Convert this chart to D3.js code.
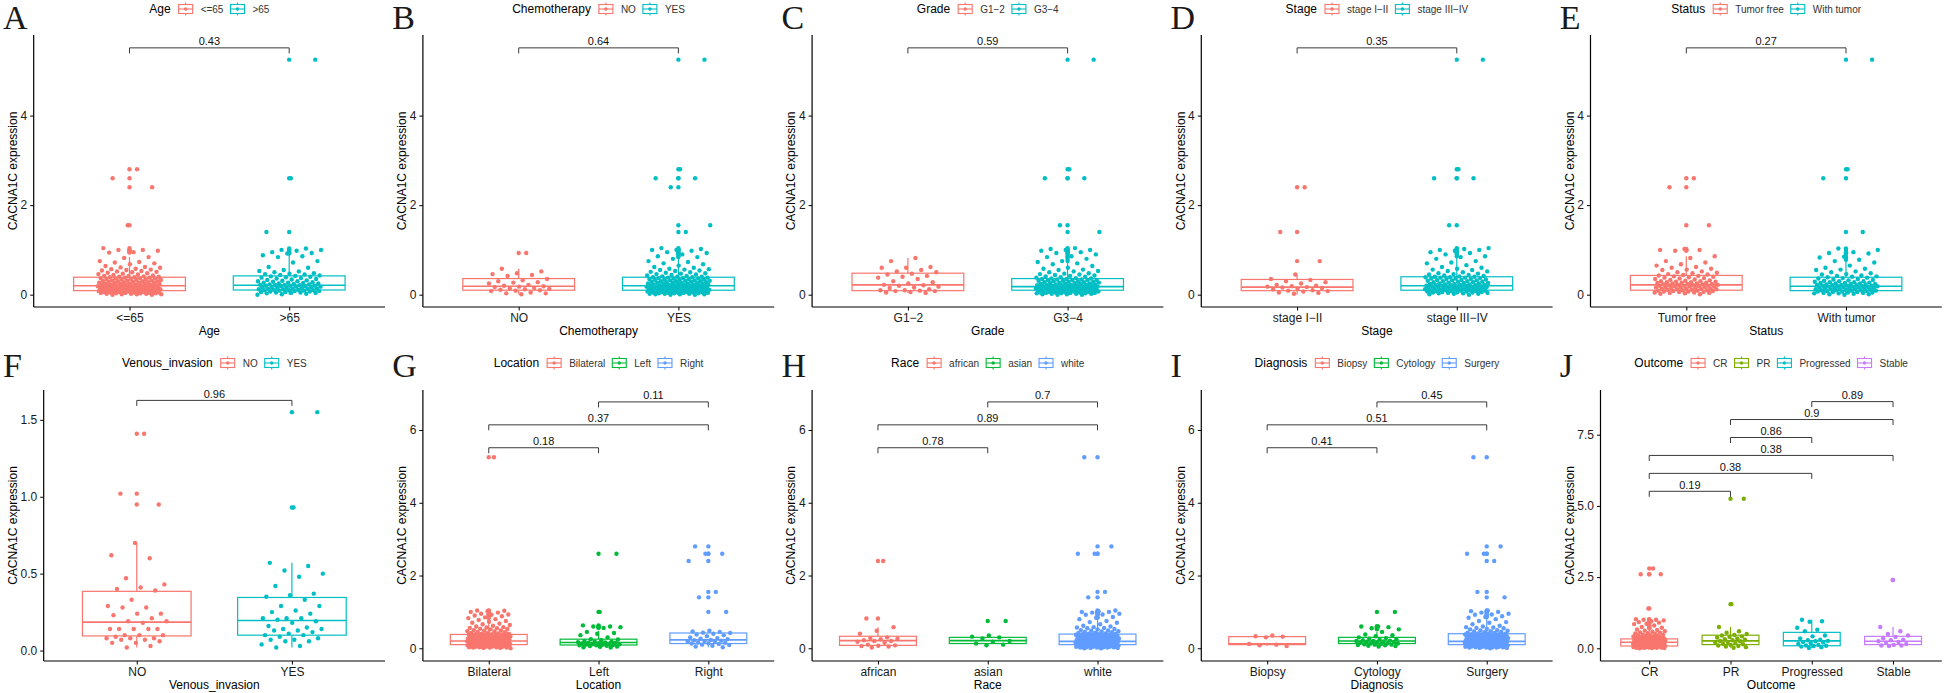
<!DOCTYPE html>
<html><head><meta charset="utf-8">
<script src="https://cdn.jsdelivr.net/npm/d3@7"></script>
<style>
body{margin:0;background:#fff}
svg{display:block}
text{font-family:"Liberation Sans",Arial,sans-serif}
</style>
</head><body>
<svg id="chart" width="1946" height="693"></svg>
<script>
// ---------------- DATA ----------------
const yTitle = "CACNA1C expression";

// Panel A: Age
const catsAge = ["<=65", ">65"];
const A_le65 = [2.8,2.6,2.4,1.55,1.04,1.0,1.0,0.98,0.95,0.94,0.84,0.82,0.75,0.73,0.72,0.7,0.68,0.64,0.62,0.61,0.6,0.58,0.57,0.56,0.55,0.54,0.53,0.52,0.51,0.5,0.49,0.48,0.47,0.46,0.45,0.44,0.43,0.42,0.42,0.41,0.4,0.4,0.39,0.39,0.38,0.38,0.37,0.37,0.36,0.36,0.35,0.35,0.34,0.34,0.33,0.33,0.32,0.32,0.31,0.31,0.3,0.3,0.3,0.29,0.29,0.28,0.28,0.27,0.27,0.26,0.26,0.25,0.25,0.25,0.24,0.24,0.23,0.23,0.22,0.22,0.22,0.21,0.21,0.21,0.2,0.2,0.2,0.2,0.19,0.19,0.19,0.18,0.18,0.18,0.17,0.17,0.17,0.16,0.16,0.16,0.15,0.15,0.15,0.14,0.14,0.14,0.13,0.13,0.13,0.12,0.12,0.12,0.11,0.11,0.11,0.1,0.1,0.1,0.09,0.09,0.09,0.08,0.08,0.08,0.07,0.07,0.07,0.06,0.06,0.06,0.05,0.05,0.05,0.04,0.04,0.04,0.03,0.03,0.03,0.02,0.02,0.02,0.01,0.01,0.01,0.0,0.0];
const A_gt65 = [5.25,2.6,1.4,1.03,1.0,1.0,0.98,0.95,0.93,0.92,0.88,0.86,0.84,0.75,0.72,0.62,0.6,0.55,0.53,0.52,0.5,0.48,0.47,0.46,0.45,0.44,0.43,0.42,0.41,0.4,0.39,0.38,0.37,0.36,0.35,0.34,0.33,0.32,0.31,0.3,0.3,0.29,0.28,0.27,0.27,0.26,0.25,0.25,0.24,0.23,0.23,0.22,0.22,0.21,0.21,0.2,0.2,0.2,0.19,0.19,0.18,0.18,0.17,0.17,0.16,0.16,0.15,0.15,0.14,0.14,0.13,0.13,0.12,0.12,0.11,0.11,0.1,0.1,0.1,0.09,0.09,0.08,0.08,0.07,0.07,0.06,0.06,0.05,0.05,0.04,0.04,0.03,0.02,0.01,0.0];
// box stats: [lower whisker, Q1, median, Q3, upper whisker]
const boxAge = [[0.0,0.09,0.20,0.39,0.84],[0.0,0.105,0.21,0.42,0.88]];
const pAge = ["0.43"];

// Panel B: Chemotherapy
const catsChemo = ["NO", "YES"];
const B_no = [0.93,0.58,0.52,0.48,0.46,0.44,0.42,0.35,0.32,0.3,0.28,0.27,0.25,0.22,0.2,0.19,0.18,0.17,0.15,0.14,0.13,0.12,0.11,0.1,0.09,0.08,0.05,0.03,0.03,0.01];
const B_yes = [5.25,2.8,2.6,2.6,2.4,1.55,1.4,1.04,1.02,1.0,1.0,0.98,0.95,0.93,0.9,0.86,0.84,0.8,0.75,0.73,0.7,0.68,0.65,0.62,0.6,0.58,0.57,0.56,0.55,0.54,0.53,0.51,0.5,0.49,0.48,0.47,0.46,0.45,0.44,0.43,0.42,0.41,0.4,0.4,0.39,0.39,0.38,0.38,0.37,0.37,0.36,0.36,0.35,0.35,0.34,0.34,0.33,0.33,0.32,0.32,0.31,0.31,0.3,0.3,0.3,0.29,0.29,0.28,0.28,0.27,0.27,0.26,0.26,0.25,0.25,0.25,0.24,0.24,0.23,0.23,0.22,0.22,0.22,0.21,0.21,0.21,0.2,0.2,0.2,0.2,0.19,0.19,0.19,0.18,0.18,0.18,0.17,0.17,0.17,0.16,0.16,0.16,0.15,0.15,0.15,0.14,0.14,0.14,0.13,0.13,0.13,0.12,0.12,0.12,0.11,0.11,0.11,0.1,0.1,0.1,0.09,0.09,0.09,0.08,0.08,0.08,0.07,0.07,0.07,0.06,0.06,0.06,0.05,0.05,0.05,0.04,0.04,0.04,0.03,0.03,0.03,0.02,0.02,0.02,0.01,0.01,0.01,0.0,0.0];
const boxChemo = [[0.01,0.10,0.19,0.36,0.58],[0.0,0.10,0.20,0.39,0.82]];
const pChemo = ["0.64"];

// Panel C: Grade
const catsGrade = ["G1\u22122", "G3\u22124"];
const C_g12 = [0.82,0.75,0.62,0.6,0.6,0.55,0.52,0.5,0.47,0.45,0.42,0.4,0.38,0.35,0.3,0.28,0.25,0.22,0.21,0.2,0.18,0.16,0.15,0.12,0.1,0.1,0.09,0.08,0.08,0.06,0.05,0.04];
const C_g34 = [5.25,2.8,2.6,2.6,1.55,1.4,1.04,1.02,1.0,1.0,0.98,0.95,0.93,0.9,0.86,0.84,0.8,0.75,0.73,0.7,0.68,0.64,0.6,0.58,0.56,0.55,0.53,0.52,0.5,0.48,0.47,0.46,0.45,0.44,0.43,0.42,0.41,0.4,0.39,0.38,0.37,0.36,0.36,0.35,0.35,0.34,0.34,0.33,0.33,0.32,0.32,0.31,0.31,0.3,0.3,0.29,0.29,0.28,0.28,0.27,0.27,0.26,0.26,0.25,0.25,0.24,0.24,0.23,0.23,0.22,0.22,0.22,0.21,0.21,0.21,0.2,0.2,0.2,0.19,0.19,0.19,0.18,0.18,0.18,0.17,0.17,0.17,0.16,0.16,0.16,0.15,0.15,0.15,0.14,0.14,0.14,0.13,0.13,0.13,0.12,0.12,0.12,0.11,0.11,0.11,0.1,0.1,0.1,0.09,0.09,0.09,0.08,0.08,0.08,0.07,0.07,0.07,0.06,0.06,0.06,0.05,0.05,0.05,0.04,0.04,0.04,0.03,0.03,0.03,0.02,0.02,0.02,0.01,0.01,0.0,0.0];
const boxGrade = [[0.04,0.09,0.22,0.48,0.82],[0.0,0.10,0.18,0.36,0.74]];
const pGrade = ["0.59"];

// Panel D: Stage
const catsStage = ["stage I\u2212II", "stage III\u2212IV"];
const D_12 = [2.4,1.4,0.75,0.45,0.35,0.33,0.3,0.28,0.25,0.22,0.2,0.19,0.18,0.17,0.16,0.15,0.13,0.12,0.1,0.09,0.08,0.07,0.05,0.04,0.02];
const D_34 = [5.25,2.8,2.6,2.6,1.55,1.04,1.02,1.0,1.0,0.98,0.95,0.93,0.9,0.86,0.84,0.8,0.75,0.72,0.7,0.66,0.62,0.6,0.58,0.56,0.55,0.53,0.52,0.5,0.48,0.47,0.46,0.45,0.44,0.43,0.42,0.41,0.4,0.4,0.39,0.39,0.38,0.38,0.37,0.36,0.36,0.35,0.35,0.34,0.33,0.33,0.32,0.32,0.31,0.3,0.3,0.29,0.29,0.28,0.28,0.27,0.26,0.26,0.25,0.25,0.24,0.24,0.23,0.23,0.22,0.22,0.21,0.21,0.21,0.2,0.2,0.2,0.19,0.19,0.19,0.18,0.18,0.17,0.17,0.17,0.16,0.16,0.15,0.15,0.15,0.14,0.14,0.13,0.13,0.13,0.12,0.12,0.11,0.11,0.11,0.1,0.1,0.1,0.09,0.09,0.08,0.08,0.08,0.07,0.07,0.06,0.06,0.06,0.05,0.05,0.04,0.04,0.03,0.03,0.02,0.02,0.01,0.0];
const boxStage = [[0.0,0.09,0.17,0.34,0.45],[0.0,0.10,0.20,0.40,0.85]];
const pStage = ["0.35"];

// Panel E: Status
const catsStatus = ["Tumor free", "With tumor"];
const E_free = [2.6,2.4,1.55,1.02,1.0,1.0,0.98,0.86,0.82,0.75,0.72,0.68,0.65,0.62,0.6,0.58,0.56,0.55,0.52,0.5,0.49,0.48,0.46,0.45,0.44,0.43,0.42,0.41,0.4,0.39,0.38,0.37,0.36,0.35,0.34,0.33,0.32,0.31,0.3,0.3,0.29,0.29,0.28,0.28,0.27,0.27,0.26,0.25,0.25,0.24,0.24,0.23,0.23,0.22,0.22,0.21,0.21,0.2,0.2,0.2,0.19,0.19,0.18,0.18,0.17,0.17,0.16,0.16,0.15,0.15,0.14,0.14,0.13,0.13,0.12,0.12,0.11,0.11,0.1,0.1,0.09,0.09,0.08,0.08,0.07,0.07,0.06,0.06,0.05,0.05,0.04,0.04,0.03,0.02,0.01];
const E_with = [5.25,2.8,2.6,1.4,1.03,1.0,0.95,0.93,0.92,0.85,0.83,0.78,0.75,0.72,0.65,0.6,0.58,0.56,0.55,0.52,0.5,0.48,0.46,0.45,0.43,0.42,0.41,0.4,0.39,0.38,0.37,0.36,0.35,0.34,0.33,0.32,0.31,0.3,0.3,0.29,0.28,0.28,0.27,0.26,0.26,0.25,0.25,0.24,0.24,0.23,0.23,0.22,0.22,0.21,0.21,0.2,0.2,0.2,0.19,0.19,0.19,0.18,0.18,0.17,0.17,0.16,0.16,0.15,0.15,0.14,0.14,0.13,0.13,0.12,0.12,0.12,0.11,0.11,0.1,0.1,0.1,0.09,0.09,0.08,0.08,0.07,0.07,0.06,0.06,0.05,0.05,0.04,0.04,0.03,0.03,0.02,0.01,0.01,0.0];
const boxStatus = [[0.0,0.10,0.22,0.43,0.86],[0.0,0.09,0.19,0.39,0.75]];
const pStatus = ["0.27"];

// Panel F: Venous_invasion
const catsVenous = ["NO", "YES"];
const F_no = [1.41,1.02,0.95,0.7,0.62,0.6,0.47,0.43,0.41,0.4,0.39,0.33,0.29,0.28,0.28,0.24,0.24,0.23,0.21,0.19,0.19,0.18,0.14,0.14,0.14,0.14,0.14,0.1,0.1,0.1,0.09,0.08,0.08,0.08,0.07,0.07,0.06,0.05,0.05,0.03,0.02];
const F_yes = [1.55,0.93,0.57,0.55,0.52,0.5,0.48,0.42,0.37,0.36,0.35,0.33,0.29,0.29,0.26,0.25,0.24,0.21,0.21,0.21,0.2,0.19,0.18,0.16,0.15,0.14,0.14,0.13,0.13,0.12,0.11,0.1,0.1,0.09,0.08,0.07,0.07,0.06,0.06,0.04,0.03,0.02];
const boxVenous = [[0.02,0.095,0.185,0.385,0.70],[0.02,0.10,0.195,0.345,0.57]];
const pVenous = ["0.96"];

// Panel G: Location
const catsLocation = ["Bilateral", "Left", "Right"];
const G_bil = [5.25,1.04,1.03,1.02,1.0,0.98,0.95,0.93,0.92,0.9,0.88,0.85,0.83,0.8,0.78,0.75,0.73,0.7,0.68,0.66,0.64,0.62,0.6,0.58,0.57,0.56,0.55,0.54,0.53,0.52,0.5,0.49,0.48,0.47,0.46,0.45,0.44,0.43,0.42,0.41,0.4,0.4,0.39,0.39,0.38,0.38,0.37,0.37,0.36,0.36,0.35,0.35,0.34,0.34,0.33,0.33,0.32,0.32,0.31,0.31,0.3,0.3,0.3,0.29,0.29,0.28,0.28,0.27,0.27,0.26,0.26,0.25,0.25,0.25,0.24,0.24,0.23,0.23,0.22,0.22,0.22,0.21,0.21,0.21,0.2,0.2,0.2,0.19,0.19,0.19,0.18,0.18,0.18,0.17,0.17,0.17,0.16,0.16,0.16,0.15,0.15,0.15,0.14,0.14,0.14,0.13,0.13,0.13,0.12,0.12,0.12,0.11,0.11,0.11,0.1,0.1,0.1,0.09,0.09,0.09,0.08,0.08,0.08,0.07,0.07,0.07,0.06,0.06,0.06,0.05,0.05,0.05,0.04,0.04,0.04,0.03,0.03,0.03,0.02,0.02,0.02,0.01,0.01,0.0];
const G_left = [2.6,1.0,0.63,0.6,0.6,0.58,0.56,0.45,0.42,0.4,0.36,0.3,0.25,0.24,0.22,0.2,0.19,0.18,0.17,0.16,0.15,0.15,0.14,0.13,0.12,0.11,0.11,0.1,0.1,0.09,0.08,0.08,0.07,0.06,0.05,0.04,0.03,0.02];
const G_right = [2.8,2.6,2.6,2.4,1.55,1.4,1.0,0.48,0.46,0.45,0.43,0.42,0.4,0.38,0.36,0.33,0.3,0.28,0.26,0.25,0.23,0.22,0.21,0.2,0.19,0.18,0.16,0.15,0.14,0.13,0.12,0.1,0.09,0.07,0.05,0.03];
const boxLocation = [[0.0,0.10,0.20,0.38,0.80],[0.0,0.09,0.16,0.25,0.48],[0.03,0.13,0.23,0.42,0.50]];
const pLocation = ["0.18", "0.37", "0.11"];

// Panel H: Race
const catsRace = ["african", "asian", "white"];
const H_afr = [2.4,0.82,0.58,0.48,0.4,0.3,0.28,0.26,0.25,0.22,0.2,0.2,0.18,0.15,0.1,0.08,0.07,0.06,0.05,0.02];
const H_asian = [0.75,0.35,0.32,0.3,0.27,0.2,0.18,0.13,0.1,0.08];
const H_white = [5.25,2.8,2.6,2.6,1.55,1.4,1.04,1.02,1.0,1.0,0.98,0.95,0.93,0.92,0.86,0.84,0.8,0.75,0.72,0.7,0.66,0.62,0.6,0.58,0.57,0.56,0.55,0.53,0.52,0.5,0.49,0.48,0.47,0.46,0.45,0.44,0.43,0.42,0.41,0.4,0.4,0.39,0.39,0.38,0.38,0.37,0.37,0.36,0.36,0.35,0.35,0.34,0.34,0.33,0.33,0.32,0.32,0.31,0.31,0.3,0.3,0.3,0.29,0.29,0.28,0.28,0.27,0.27,0.26,0.26,0.25,0.25,0.25,0.24,0.24,0.23,0.23,0.22,0.22,0.22,0.21,0.21,0.21,0.2,0.2,0.2,0.2,0.19,0.19,0.19,0.18,0.18,0.18,0.17,0.17,0.17,0.16,0.16,0.16,0.15,0.15,0.15,0.14,0.14,0.14,0.13,0.13,0.13,0.12,0.12,0.12,0.11,0.11,0.11,0.1,0.1,0.1,0.09,0.09,0.09,0.08,0.08,0.08,0.07,0.07,0.07,0.06,0.06,0.06,0.05,0.05,0.05,0.04,0.04,0.04,0.03,0.03,0.03,0.02,0.02,0.02,0.01,0.01,0.0,0.0];
const boxRace = [[0.02,0.08,0.21,0.33,0.58],[0.08,0.13,0.21,0.30,0.35],[0.0,0.10,0.19,0.39,0.82]];
const pRace = ["0.78", "0.89", "0.7"];

// Panel I: Diagnosis
const catsDiagnosis = ["Biopsy", "Cytology", "Surgery"];
const I_bio = [0.35,0.33,0.32,0.3,0.12,0.1,0.08,0.06];
const I_cyt = [1.0,0.6,0.6,0.58,0.55,0.52,0.45,0.38,0.36,0.33,0.3,0.28,0.26,0.25,0.24,0.22,0.21,0.2,0.2,0.19,0.18,0.17,0.16,0.15,0.14,0.13,0.13,0.12,0.11,0.1,0.1,0.09,0.08,0.07,0.06,0.05];
const I_sur = [5.25,2.8,2.6,2.6,2.4,1.55,1.4,1.04,1.02,1.0,0.98,0.95,0.93,0.92,0.88,0.86,0.84,0.8,0.75,0.72,0.7,0.66,0.62,0.6,0.58,0.57,0.56,0.55,0.53,0.52,0.5,0.49,0.48,0.47,0.46,0.45,0.44,0.43,0.42,0.41,0.4,0.4,0.39,0.39,0.38,0.38,0.37,0.37,0.36,0.36,0.35,0.35,0.34,0.34,0.33,0.33,0.32,0.32,0.31,0.31,0.3,0.3,0.3,0.29,0.29,0.28,0.28,0.27,0.27,0.26,0.26,0.25,0.25,0.25,0.24,0.24,0.23,0.23,0.22,0.22,0.22,0.21,0.21,0.21,0.2,0.2,0.2,0.19,0.19,0.19,0.18,0.18,0.18,0.17,0.17,0.17,0.16,0.16,0.16,0.15,0.15,0.15,0.14,0.14,0.14,0.13,0.13,0.13,0.12,0.12,0.12,0.11,0.11,0.11,0.1,0.1,0.1,0.09,0.09,0.09,0.08,0.08,0.08,0.07,0.07,0.07,0.06,0.06,0.06,0.05,0.05,0.05,0.04,0.04,0.04,0.03,0.03,0.03,0.02,0.02,0.02,0.01,0.01,0.0];
const boxDiagnosis = [[0.06,0.10,0.12,0.32,0.35],[0.05,0.13,0.20,0.30,0.45],[0.0,0.10,0.19,0.40,0.85]];
const pDiagnosis = ["0.41", "0.51", "0.45"];

// Panel J: Outcome
const catsOutcome = ["CR", "PR", "Progressed", "Stable"];
const J_cr = [2.8,2.6,2.6,1.4,1.02,1.0,1.0,0.98,0.95,0.92,0.9,0.86,0.85,0.8,0.75,0.72,0.7,0.66,0.64,0.62,0.6,0.58,0.56,0.55,0.53,0.52,0.5,0.48,0.47,0.46,0.45,0.44,0.43,0.42,0.41,0.4,0.39,0.38,0.37,0.36,0.35,0.35,0.34,0.34,0.33,0.33,0.32,0.32,0.31,0.31,0.3,0.3,0.29,0.29,0.28,0.28,0.27,0.27,0.26,0.26,0.25,0.25,0.25,0.24,0.24,0.23,0.23,0.22,0.22,0.22,0.21,0.21,0.21,0.2,0.2,0.2,0.19,0.19,0.19,0.18,0.18,0.18,0.17,0.17,0.17,0.16,0.16,0.16,0.15,0.15,0.15,0.14,0.14,0.14,0.13,0.13,0.13,0.12,0.12,0.12,0.11,0.11,0.11,0.1,0.1,0.1,0.09,0.09,0.09,0.08,0.08,0.08,0.07,0.07,0.07,0.06,0.06,0.06,0.05,0.05,0.05,0.04,0.04,0.04,0.03,0.03,0.03,0.02,0.02,0.02,0.01,0.01,0.0];
const J_pr = [5.25,1.55,0.75,0.6,0.55,0.5,0.47,0.45,0.42,0.4,0.38,0.35,0.32,0.3,0.28,0.26,0.25,0.22,0.2,0.18,0.16,0.14,0.12,0.1,0.08,0.06,0.04,0.02];
const J_prog = [1.0,0.95,0.93,0.72,0.65,0.6,0.45,0.42,0.35,0.3,0.28,0.26,0.25,0.22,0.2,0.18,0.15,0.12,0.1,0.09,0.08,0.06,0.04,0.01];
const J_stable = [2.4,0.75,0.6,0.5,0.45,0.4,0.35,0.3,0.28,0.25,0.22,0.2,0.15,0.12,0.1,0.1,0.08];
const boxOutcome = [[0.0,0.08,0.21,0.33,0.70],[0.02,0.13,0.26,0.46,0.75],[0.0,0.09,0.26,0.56,1.0],[0.08,0.13,0.25,0.42,0.75]];
const pOutcome = ["0.19", "0.38", "0.38", "0.86", "0.9", "0.89"];

// tick labels
const ticksTop = [0, 2, 4];
const ticksVenous = [0, 0.5, 1.0, 1.5];
const ticksSix = [0, 2, 4, 6];
const ticksOutcome = [0, 2.5, 5.0, 7.5];

// ---------------- CONFIG ----------------
const palettes = {
  2: ["#F8766D", "#00BFC4"],
  3: ["#F8766D", "#00BA38", "#619CFF"],
  4: ["#F8766D", "#7CAE00", "#00BFC4", "#C77CFF"]
};
const pairsFor = n => {
  const out = [];
  for (let a = 0; a < n; a++) for (let b = a + 1; b < n; b++) out.push([a, b]);
  return out;
};

const panels = [
  {letter:"A", variable:"Age", cats:catsAge, values:[A_le65,A_gt65], boxes:boxAge, pvals:pAge, ticks:ticksTop, fmt:"d", domain:[-0.275,5.80], row:0, col:0},
  {letter:"B", variable:"Chemotherapy", cats:catsChemo, values:[B_no,B_yes], boxes:boxChemo, pvals:pChemo, ticks:ticksTop, fmt:"d", domain:[-0.275,5.80], row:0, col:1},
  {letter:"C", variable:"Grade", cats:catsGrade, values:[C_g12,C_g34], boxes:boxGrade, pvals:pGrade, ticks:ticksTop, fmt:"d", domain:[-0.275,5.80], row:0, col:2},
  {letter:"D", variable:"Stage", cats:catsStage, values:[D_12,D_34], boxes:boxStage, pvals:pStage, ticks:ticksTop, fmt:"d", domain:[-0.275,5.80], row:0, col:3},
  {letter:"E", variable:"Status", cats:catsStatus, values:[E_free,E_with], boxes:boxStatus, pvals:pStatus, ticks:ticksTop, fmt:"d", domain:[-0.275,5.80], row:0, col:4},
  {letter:"F", variable:"Venous_invasion", cats:catsVenous, values:[F_no,F_yes], boxes:boxVenous, pvals:pVenous, ticks:ticksVenous, fmt:".1f", domain:[-0.068,1.694], row:1, col:0},
  {letter:"G", variable:"Location", cats:catsLocation, values:[G_bil,G_left,G_right], boxes:boxLocation, pvals:pLocation, ticks:ticksSix, fmt:"d", domain:[-0.35,7.10], row:1, col:1},
  {letter:"H", variable:"Race", cats:catsRace, values:[H_afr,H_asian,H_white], boxes:boxRace, pvals:pRace, ticks:ticksSix, fmt:"d", domain:[-0.35,7.10], row:1, col:2},
  {letter:"I", variable:"Diagnosis", cats:catsDiagnosis, values:[I_bio,I_cyt,I_sur], boxes:boxDiagnosis, pvals:pDiagnosis, ticks:ticksSix, fmt:"d", domain:[-0.35,7.10], row:1, col:3},
  {letter:"J", variable:"Outcome", cats:catsOutcome, values:[J_cr,J_pr,J_prog,J_stable], boxes:boxOutcome, pvals:pOutcome, ticks:ticksOutcome, fmt:".1f", domain:[-0.446,9.07], row:1, col:4}
];

const rows = [
  {letterY:29, legendY:9, top:35, bottom:307},
  {letterY:377, legendY:363, top:390, bottom:661}
];
const panelW = 1946 / 5;

// ---------------- DRAW ----------------
const svg = d3.select("#chart");
svg.append("rect").attr("width",1946).attr("height",693).attr("fill","#fff");

function measure(txt, size) {
  const t = svg.append("text").attr("font-size", size).text(txt);
  const w = t.node().getComputedTextLength();
  t.remove();
  return w;
}

panels.forEach(p => {
  const R = rows[p.row];
  const x0 = p.col * panelW;
  const colors = palettes[p.cats.length];
  const fmt = d3.format(p.fmt);
  const maxTickW = d3.max(p.ticks, t => measure(fmt(t), 12));
  const left = x0 + 27 + maxTickW;
  const right = x0 + 385;

  const x = d3.scalePoint().domain(d3.range(p.cats.length)).range([left, right]).padding(0.6);
  const step = x.step();
  const y = d3.scaleLinear().domain(p.domain).range([R.bottom, R.top]);

  const g = svg.append("g");

  // panel letter
  g.append("text").attr("x", x0 + 3).attr("y", R.letterY)
    .style("font-family", "'Liberation Serif','Times New Roman',serif")
    .attr("font-size", 34).attr("fill", "#1a1a1a").text(p.letter);

  // boxes (white fill, coloured outline) with outliers drawn at the centre
  const bw = step * 0.7;
  p.boxes.forEach((b, i) => {
    const cx = x(i), c = colors[i];
    const bg = g.append("g").attr("stroke", c).attr("stroke-width", 1.2).attr("fill", "none");
    bg.append("line").attr("x1", cx).attr("x2", cx).attr("y1", y(b[3])).attr("y2", y(b[4]));
    bg.append("line").attr("x1", cx).attr("x2", cx).attr("y1", y(b[1])).attr("y2", y(b[0]));
    bg.append("rect").attr("x", cx - bw/2).attr("width", bw)
      .attr("y", y(b[3])).attr("height", y(b[1]) - y(b[3])).attr("fill", "#fff");
    bg.append("line").attr("x1", cx - bw/2).attr("x2", cx + bw/2)
      .attr("y1", y(b[2])).attr("y2", y(b[2])).attr("stroke-width", 1.6);
    const outl = p.values[i].filter(v => v > b[4] || v < b[0]);
    g.append("g").selectAll("circle").data(outl).join("circle")
      .attr("cx", cx).attr("cy", d => y(d)).attr("r", 2.2).attr("fill", c);
  });

  // jittered points (deterministic spread, +/-0.2 category width)
  p.values.forEach((vals, gi) => {
    g.append("g").selectAll("circle").data(vals).join("circle")
      .attr("cx", (d, i) => {
        const f = ((i + 1) * 0.6180339887 + gi * 0.29) % 1;
        return x(gi) + (f - 0.5) * 0.4 * step;
      })
      .attr("cy", d => y(d))
      .attr("r", 2.2)
      .attr("fill", colors[gi]);
  });

  // axes
  const ya = g.append("g").attr("transform", `translate(${left},0)`)
    .call(d3.axisLeft(y).tickValues(p.ticks).tickFormat(fmt).tickSize(3.5).tickSizeOuter(0).tickPadding(3));
  const xa = g.append("g").attr("transform", `translate(0,${R.bottom})`)
    .call(d3.axisBottom(x).tickFormat(i => p.cats[i]).tickSize(3.5).tickSizeOuter(0).tickPadding(3));
  [ya, xa].forEach(a => {
    a.select(".domain").attr("stroke", "#000").attr("stroke-width", 1.2);
    a.selectAll(".tick line").attr("stroke", "#000").attr("stroke-width", 1);
    a.selectAll(".tick text").attr("font-size", 12).attr("fill", "#1a1a1a")
      .style("font-family", "'Liberation Sans',Arial,sans-serif");
  });
  ya.select(".domain").attr("d", `M0,${R.bottom}V${R.top}`);
  xa.select(".domain").attr("d", `M${left},0H${right}`);

  // axis titles
  g.append("text").attr("x", (left + right) / 2).attr("y", R.bottom + 28)
    .attr("text-anchor", "middle").attr("font-size", 12).attr("fill", "#000").text(p.variable);
  g.append("text").attr("transform", `translate(${x0 + 17},${(R.top + R.bottom) / 2}) rotate(-90)`)
    .attr("text-anchor", "middle").attr("font-size", 12).attr("fill", "#000").text(yTitle);

  // comparison brackets
  const all = p.values.flat();
  const dMax = d3.max(all), dMin = d3.min(all);
  const base = dMax + 0.05 * (dMax - dMin);
  const stepB = 0.12 * (dMax - dMin);
  pairsFor(p.cats.length).forEach(([a, b], k) => {
    const yy = y(base + k * stepB);
    g.append("path")
      .attr("d", `M${x(a)},${yy + 5.5}V${yy}H${x(b)}V${yy + 5.5}`)
      .attr("fill", "none").attr("stroke", "#3a3a3a").attr("stroke-width", 1);
    g.append("text").attr("x", (x(a) + x(b)) / 2).attr("y", yy - 2.5)
      .attr("text-anchor", "middle").attr("font-size", 11).attr("fill", "#111")
      .text(p.pvals[k]);
  });

  // legend
  const lg = g.append("g");
  const title = lg.append("text").attr("x", 0).attr("y", 0).attr("dy", "0.35em")
    .attr("font-size", 12).attr("fill", "#000").text(p.variable);
  let cx = title.node().getComputedTextLength() + 8;
  p.cats.forEach((c, i) => {
    const k = lg.append("g").attr("transform", `translate(${cx},0)`)
      .attr("stroke", colors[i]).attr("stroke-width", 1.1).attr("fill", "none");
    k.append("line").attr("x1", 7).attr("x2", 7).attr("y1", -6.5).attr("y2", 6.5);
    k.append("rect").attr("x", 0).attr("y", -4.5).attr("width", 14).attr("height", 9).attr("fill", "#fff");
    k.append("line").attr("x1", 0).attr("x2", 14).attr("y1", 0).attr("y2", 0);
    k.append("circle").attr("cx", 7).attr("cy", 0).attr("r", 1.7).attr("fill", colors[i]).attr("stroke", "none");
    cx += 14 + 8;
    const lt = lg.append("text").attr("x", cx).attr("y", 0).attr("dy", "0.35em")
      .attr("font-size", 10).attr("fill", "#333").text(c);
    cx += lt.node().getComputedTextLength() + 7;
  });
  const total = cx - 7;
  lg.attr("transform", `translate(${(left + right) / 2 - total / 2},${R.legendY})`);
});
</script>
</body></html>
